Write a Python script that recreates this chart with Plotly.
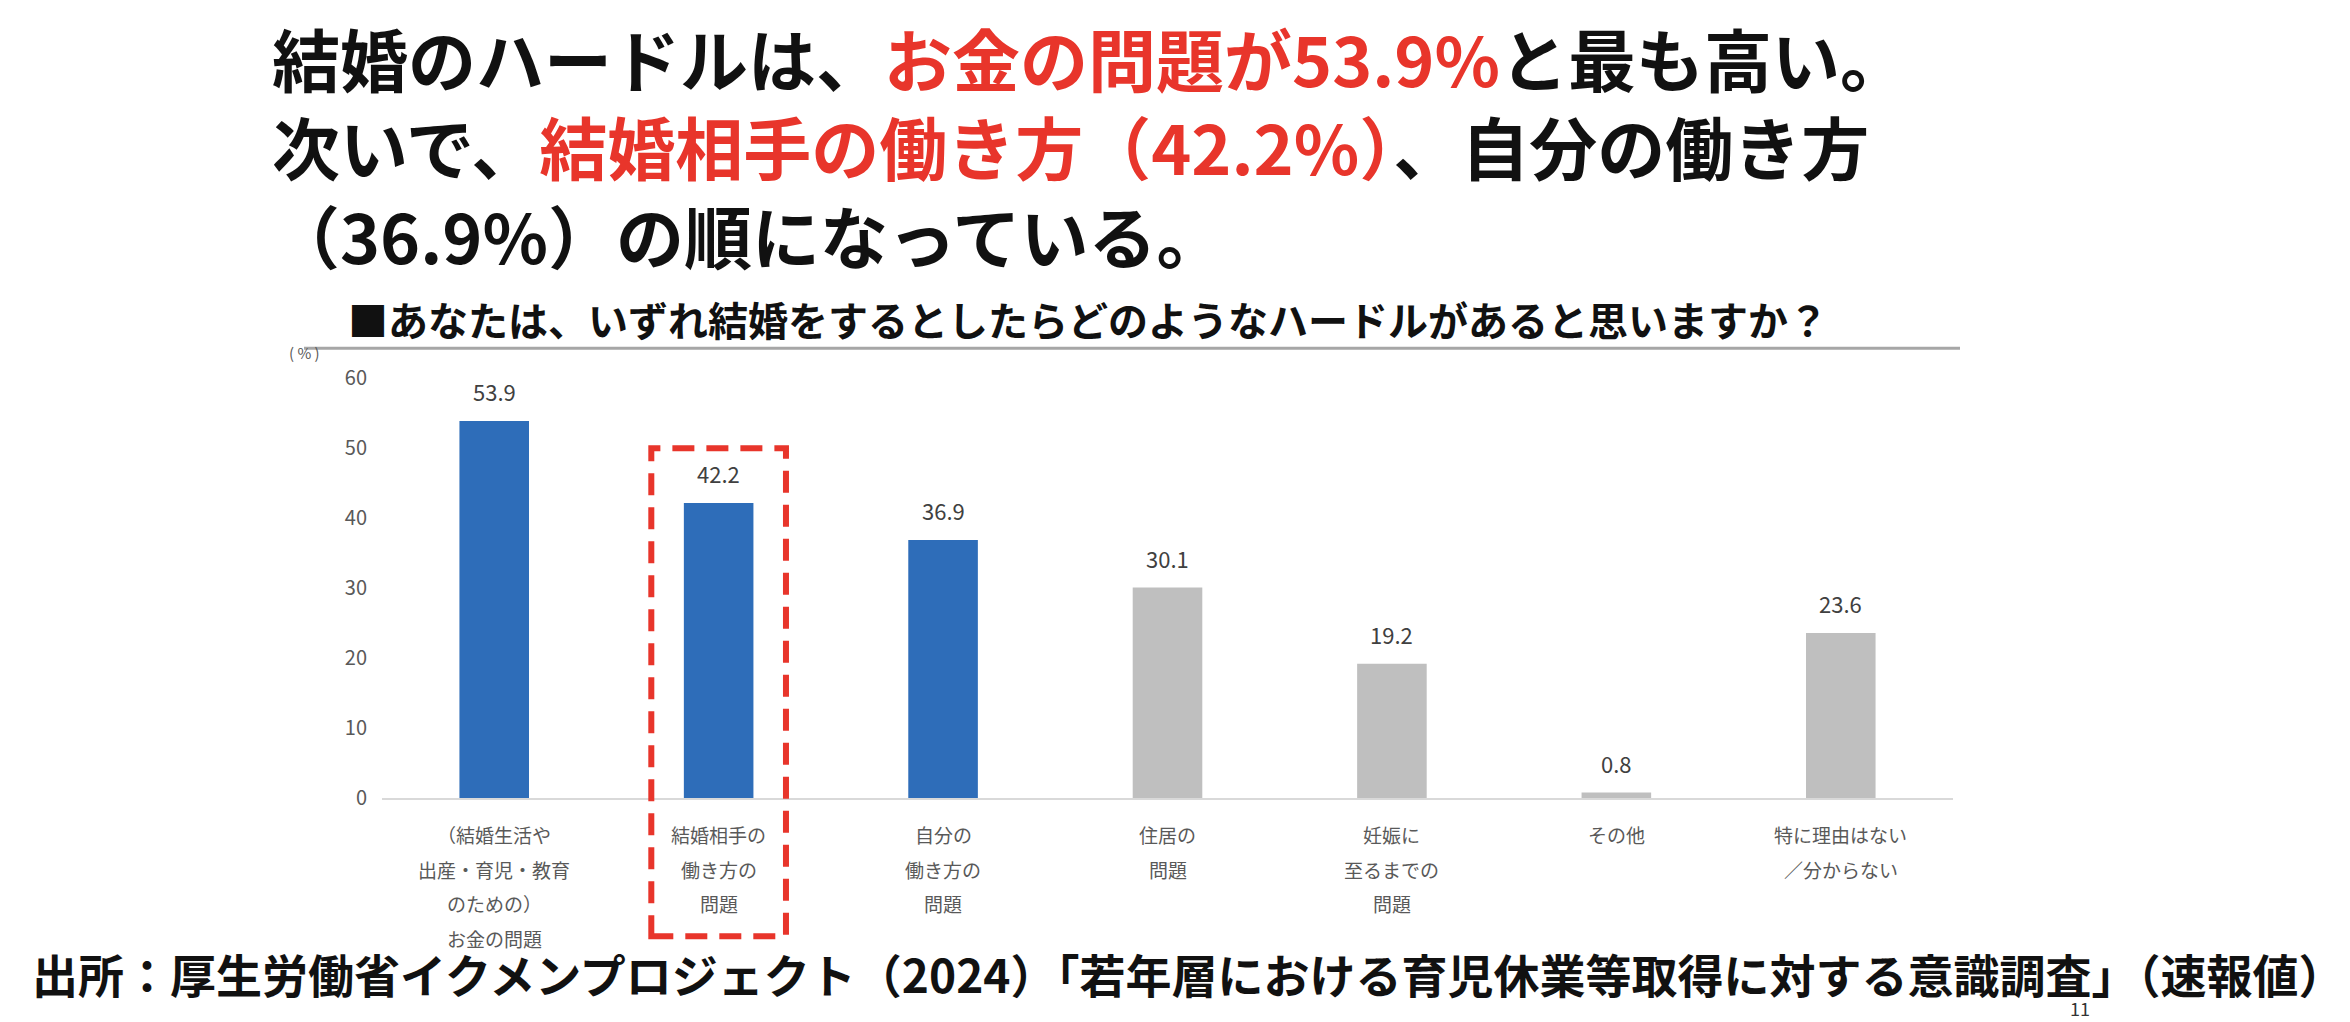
import plotly.graph_objects as go

W, H = 2350, 1022

# ---- data ----
categories = ["お金の問題", "結婚相手の働き方の問題", "自分の働き方の問題", "住居の問題",
              "妊娠に至るまでの問題", "その他", "特に理由はない／分からない"]
category_lines = [
    ["（結婚生活や", "出産・育児・教育", "のための）", "お金の問題"],
    ["結婚相手の", "働き方の", "問題"],
    ["自分の", "働き方の", "問題"],
    ["住居の", "問題"],
    ["妊娠に", "至るまでの", "問題"],
    ["その他"],
    ["特に理由はない", "／分からない"],
]
values = [53.9, 42.2, 36.9, 30.1, 19.2, 0.8, 23.6]
highlight = [True, True, True, False, False, False, False]
y_ticks = [0, 10, 20, 30, 40, 50, 60]

BLUE = "#2E6DB9"
GRAY = "#BFBFBF"
RED = "#E8352B"
JP = "Noto Sans CJK JP"

def px(x):
    return x / W

def py(y):
    return 1 - y / H

colors = [BLUE if h else GRAY for h in highlight]

fig = go.Figure()
fig.add_trace(go.Bar(
    x=categories, y=values, marker=dict(color=colors, line=dict(width=0)),
    width=0.31, hoverinfo="skip", showlegend=False,
))

annotations = []
# value labels
for c, v in zip(categories, values):
    annotations.append(dict(
        x=c, y=v, xref="x", yref="y", text=f"{v:.1f}", showarrow=False,
        yanchor="middle", yshift=30,
        font=dict(family=JP, size=22, color="#404040"),
    ))
# category labels (one annotation per line)
for c, lines in zip(categories, category_lines):
    for i, line in enumerate(lines):
        annotations.append(dict(
            x=c, y=py(842 + 35.5 * i), xref="x", yref="paper", text=line,
            showarrow=False, yanchor="middle", xanchor="center", height=26,
            font=dict(family=JP, size=19, color="#595959"),
        ))

# headline (three lines in one text block)
headline = (
    "<b>結婚のハードルは、<span style='color:%s'>お金の問題が53.9%%</span>と最も高い。<br>"
    "次いで、<span style='color:%s'>結婚相手の働き方（42.2%%）</span>、自分の働き方<br>"
    "（36.9%%）の順になっている。</b>" % (RED, RED)
)
annotations.append(dict(
    x=px(270), y=py(134), xref="paper", yref="paper", text=headline,
    showarrow=False, xanchor="left", yanchor="middle", align="left",
    font=dict(family=JP, size=68, color="#111111"),
))

# chart subtitle
annotations.append(dict(
    x=px(346), y=py(312), xref="paper", yref="paper",
    text="<b>■あなたは、いずれ結婚をするとしたらどのようなハードルがあると思いますか？</b>",
    showarrow=False, xanchor="left", yanchor="middle", height=46,
    font=dict(family=JP, size=40, color="#111111"),
))
# unit label
annotations.append(dict(
    x=px(304), y=py(346), xref="paper", yref="paper", text="( % )",
    showarrow=False, xanchor="center", yanchor="middle",
    font=dict(family=JP, size=15, color="#595959"),
))
# source
annotations.append(dict(
    x=px(30), y=py(985), xref="paper", yref="paper",
    text="<b>出所：厚生労働省イクメンプロジェクト（2024）「若年層における育児休業等取得に対する意識調査」（速報値）</b>",
    showarrow=False, xanchor="left", yanchor="middle",
    font=dict(family=JP, size=46, color="#111111"),
))
# page number
annotations.append(dict(
    x=px(2080), y=py(1006), xref="paper", yref="paper", text="11",
    showarrow=False, xanchor="center", yanchor="top",
    font=dict(family=JP, size=18, color="#333333"),
))

shapes = [
    # subtitle underline
    dict(type="line", xref="paper", yref="paper", x0=px(304), x1=px(1960),
         y0=py(342), y1=py(342), line=dict(color="#A6A6A6", width=3)),
    # red dashed highlight box
    dict(type="rect", xref="x", yref="paper", x0=0.7, x1=1.3,
         y0=py(947), y1=py(445), line=dict(color=RED, width=6, dash="22px,12px")),
]

fig.update_layout(
    width=W, height=H, autosize=False,
    margin=dict(l=0, r=0, t=0, b=0),
    paper_bgcolor="white", plot_bgcolor="white",
    annotations=annotations, shapes=shapes,
    xaxis=dict(domain=[px(382), px(1953)], showticklabels=False, showgrid=False,
               showline=True, linecolor="#D9D9D9", linewidth=2, zeroline=False,
               fixedrange=True),
    yaxis=dict(domain=[py(805), py(373)], range=[0, 60], tickvals=y_ticks,
               showgrid=False, zeroline=False, showline=False, ticks="",
               ticklabelstandoff=14,
               tickfont=dict(family=JP, size=20, color="#595959"), fixedrange=True),
    bargap=0.69,
)

fig.write_html("out.html", config={"displayModeBar": False})
